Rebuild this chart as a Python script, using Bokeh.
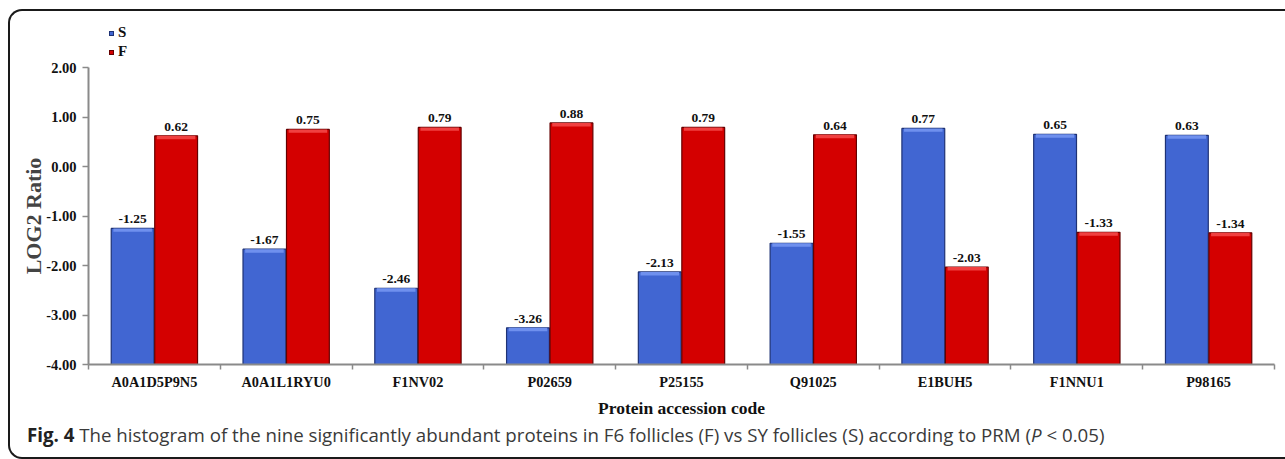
from bokeh.plotting import figure
from bokeh.models import (Range1d, LinearAxis, FixedTicker, NumeralTickFormatter, ColumnDataSource,
                          LabelSet, Title, Div)
from bokeh.layouts import column
from bokeh.transform import dodge
from bokeh.embed import file_html
from bokeh.resources import INLINE

categories = ["A0A1D5P9N5", "A0A1L1RYU0", "F1NV02", "P02659", "P25155", "Q91025", "E1BUH5", "F1NNU1", "P98165"]
s_values = [-1.25, -1.67, -2.46, -3.26, -2.13, -1.55, 0.77, 0.65, 0.63]
f_values = [0.62, 0.75, 0.79, 0.88, 0.79, 0.64, -2.03, -1.33, -1.34]
y_ticks = [-4, -3, -2, -1, 0, 1, 2]
series = ["S", "F"]

SERIF = "Liberation Serif"
BLUE, BLUE_D, BLUE_L = "#4166D2", "#1E3275", "#6F90EE"
RED, RED_D, RED_L = "#D40000", "#640000", "#F04040"

n = len(categories)
centers = [i + 0.5 for i in range(n)]
bounds = list(range(n + 1))
src = ColumnDataSource(dict(
    xc=centers, cat=categories, s=s_values, f=f_values,
    s_lbl=["%.2f" % v for v in s_values], f_lbl=["%.2f" % v for v in f_values],
    s_hl=[v - 0.07 for v in s_values], f_hl=[v - 0.07 for v in f_values],
))

# ---- legend (HTML, above the plot) ----
leg_html = ('<div style="padding-top:12px;padding-left:99px;font-family:\'Liberation Serif\';font-weight:bold;'
            'font-size:15px;line-height:19px;color:#111">')
for name, c, cd in ((series[0], BLUE, BLUE_D), (series[1], RED, RED_D)):
    leg_html += ('<div><span style="display:inline-block;width:5px;height:5px;background:%s;'
                 'border:1px solid %s;margin-right:4px;vertical-align:1px"></span>%s</div>' % (c, cd, name))
leg_html += '</div>'
legend_div = Div(text=leg_html, width=1275, height=48,
                 styles={"height": "48px", "overflow": "hidden", "margin": "0", "padding": "0"})

# ---- main plot ----
p = figure(width=1275, height=365, x_range=Range1d(0, n), y_range=Range1d(-4, 2),
           output_backend="svg", toolbar_location=None, x_axis_location=None,
           min_border_left=78, min_border_right=11, min_border_top=8, min_border_bottom=60)
p.outline_line_color = None
p.xgrid.visible = False
p.ygrid.visible = False
p.background_fill_color = "white"
p.border_fill_color = "white"

W = 0.325
D = 0.165
rs = p.vbar(x=dodge("xc", -D), top="s", bottom=-4, width=W, source=src,
            fill_color=BLUE, line_color=BLUE_D, line_width=1.2)
rf = p.vbar(x=dodge("xc", D), top="f", bottom=-4, width=W, source=src,
            fill_color=RED, line_color=RED_D, line_width=1.2)
# bevel highlight on top of bars
p.vbar(x=dodge("xc", -D), top="s", bottom="s_hl", width=W * 0.9, source=src,
       fill_color=BLUE_L, line_color=None)
p.vbar(x=dodge("xc", D), top="f", bottom="f_hl", width=W * 0.9, source=src,
       fill_color=RED_L, line_color=None)

for col, lbl, off in (("s", "s_lbl", -D), ("f", "f_lbl", D)):
    p.add_layout(LabelSet(x=dodge("xc", off), y=col, text=lbl, source=src,
                          text_align="center", text_baseline="bottom", y_offset=5,
                          text_font=SERIF, text_font_style="bold", text_font_size="13.5px",
                          text_color="#111111"))

# y axis
yax = p.yaxis[0]
yax.ticker = FixedTicker(ticks=y_ticks)
yax.formatter = NumeralTickFormatter(format="0.00")
yax.axis_label = "LOG2 Ratio"
yax.axis_label_text_font = SERIF
yax.axis_label_text_font_style = "bold"
yax.axis_label_text_font_size = "22px"
yax.axis_label_standoff = -3
yax.major_label_text_font = SERIF
yax.major_label_text_font_style = "bold"
yax.major_label_text_font_size = "14.5px"
yax.major_label_text_color = "#111111"
yax.major_label_standoff = 6
yax.axis_line_color = "#8a8a8a"
yax.axis_line_width = 2
yax.major_tick_line_color = "#8a8a8a"
yax.major_tick_line_width = 1.5
yax.major_tick_in = 0
yax.major_tick_out = 6
yax.minor_tick_line_color = None

# x axis: labels at category centres, tick marks at category boundaries
xax = LinearAxis(ticker=FixedTicker(ticks=centers, minor_ticks=bounds),
                 major_label_overrides={c: name for c, name in zip(centers, categories)},
                 axis_line_color="#8a8a8a", axis_line_width=2,
                 major_tick_line_color=None,
                 minor_tick_line_color="#8a8a8a", minor_tick_line_width=1.5,
                 minor_tick_in=0, minor_tick_out=5,
                 major_label_standoff=3,
                 major_label_text_font=SERIF, major_label_text_font_style="bold",
                 major_label_text_font_size="14.3px", major_label_text_color="#111111")
p.add_layout(xax, "below")
p.add_layout(Title(text="Protein accession code", align="center", standoff=7,
                   text_font=SERIF, text_font_style="bold", text_font_size="17.5px",
                   text_color="#111111"), "below")

# ---- caption (HTML, below the plot) ----
cap_html = ('<div style="padding-left:17px;font-family:\'Open Sans\';font-size:18.7px;line-height:22px;'
            'color:#3a3a3a;white-space:nowrap"><b style="color:#222">Fig. 4</b> The histogram of the nine '
            'significantly abundant proteins in F6 follicles (F) vs SY follicles (S) according to PRM '
            '(<i>P</i> &lt; 0.05)</div>')
caption_div = Div(text=cap_html, width=1275, height=33,
                  styles={"height": "33px", "margin": "0", "padding": "0"})

layout = column(legend_div, p, caption_div, spacing=0)
layout.styles = {"margin-left": "8px", "margin-top": "9px",
                 "border-left": "2px solid #1a1a1a", "border-top": "2px solid #1a1a1a",
                 "border-bottom": "2px solid #1a1a1a",
                 "border-top-left-radius": "14px", "border-bottom-left-radius": "14px",
                 "background-color": "white"}

open("out.html", "w").write(file_html(layout, INLINE))
